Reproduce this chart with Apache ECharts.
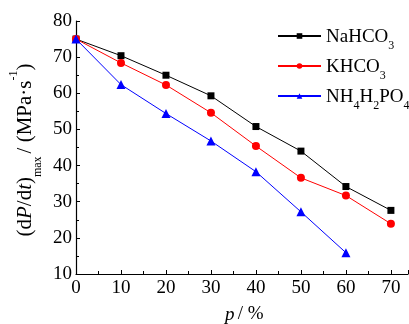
<!DOCTYPE html>
<html><head><meta charset="utf-8">
<script src="https://cdn.jsdelivr.net/npm/echarts@6/dist/echarts.min.js"></script>
<style>html,body{margin:0;padding:0;background:#fff}#c{width:409px;height:324px}</style>
</head><body><div id="c"></div>
<script>
const categories = [0, 10, 20, 30, 40, 50, 60, 70];
const nahco3 = [75.0, 70.4, 65.0, 59.3, 50.8, 44.0, 34.2, 27.6];
const khco3 = [75.0, 68.4, 62.3, 54.6, 45.4, 36.6, 31.7, 23.9];
const nh4h2po4 = [75.0, 62.4, 54.4, 46.8, 38.3, 27.2, 15.9];
const seriesNames = ['NaHCO3', 'KHCO3', 'NH4H2PO4'];
const yTicks = [10, 20, 30, 40, 50, 60, 70, 80];

const F = 'Liberation Serif, Times New Roman, serif';
const chart = echarts.init(document.getElementById('c'));
const pairs = arr => arr.map((v, i) => [categories[i], v]);
const legendRich = {
  n: {fontFamily: F, fontSize: 19, color: '#000', verticalAlign: 'bottom', lineHeight: 22},
  s: {fontFamily: F, fontSize: 12, color: '#000', verticalAlign: 'bottom', lineHeight: 14, padding: [0,0,-5,0]}
};
const legendFmt = {
  'NaHCO3': '{n|NaHCO}{s|3}',
  'KHCO3': '{n|KHCO}{s|3}',
  'NH4H2PO4': '{n|NH}{s|4}{n|H}{s|2}{n|PO}{s|4}'
};
const mk = (name, data, color, symbol, size) => ({
  name, type: 'line', data: pairs(data), symbol, symbolSize: size,
  lineStyle: {color, width: 1}, itemStyle: {color}, animation: false
});
chart.setOption({
  animation: false,
  grid: {left: 76, top: 21, right: 1, bottom: 50, containLabel: false},
  legend: {
    orient: 'vertical', left: 272, top: 23, itemGap: 6, itemWidth: 43, itemHeight: 7,
    data: seriesNames, formatter: n => legendFmt[n], textStyle: {rich: legendRich}
  },
  xAxis: {
    type: 'value', min: 0, max: 73.8, interval: 10,
    axisLine: {lineStyle: {color: '#000', width: 1.2}},
    axisTick: {inside: true, length: 4, lineStyle: {color: '#000'}},
    minorTick: {show: true, splitNumber: 2, length: 3, lineStyle: {color: '#000'}},
    axisLabel: {fontFamily: F, fontSize: 19, color: '#000', margin: 5, showMaxLabel: false},
    splitLine: {show: false}
  },
  yAxis: {
    type: 'value', min: yTicks[0], max: yTicks[yTicks.length-1], interval: 10,
    axisLine: {show: true, lineStyle: {color: '#000', width: 1.2}},
    axisTick: {show: true, inside: true, length: 4, lineStyle: {color: '#000'}},
    minorTick: {show: true, splitNumber: 2, length: 3, lineStyle: {color: '#000'}},
    axisLabel: {fontFamily: F, fontSize: 19, color: '#000', margin: 4},
    splitLine: {show: false}
  },
  graphic: [
    {type: 'text', left: 225, top: 305, style: {
      text: '{i|p} {n|/ %}', rich: {
        i: {fontFamily: F, fontSize: 19, fontStyle: 'italic', fill: '#000'},
        n: {fontFamily: F, fontSize: 19, fill: '#000'}
      }}},
    {type: 'text', x: 25, y: 150, rotation: Math.PI/2, style: {
      text: '{n|(d}{i|P}{n|/d}{i|t}{n|)}{s|max}{n|/ (MPa·s}{u|-1}{n|)}',
      align: 'center', verticalAlign: 'middle',
      rich: {
        n: {fontFamily: F, fontSize: 21, fill: '#000', verticalAlign: 'middle', lineHeight: 24},
        i: {fontFamily: F, fontSize: 21, fontStyle: 'italic', fill: '#000', lineHeight: 24},
        s: {fontFamily: F, fontSize: 12, fill: '#000', verticalAlign: 'bottom', lineHeight: 14, padding: [0,3,-7,0]},
        u: {fontFamily: F, fontSize: 12, fill: '#000', verticalAlign: 'top', lineHeight: 14, padding: [-5,0,0,0]}
      }}}
  ],
  series: [
    mk('NaHCO3', nahco3, '#000000', 'rect', 7),
    mk('KHCO3', khco3, '#ff0000', 'circle', 8),
    mk('NH4H2PO4', nh4h2po4, '#0000ff', 'triangle', 9)
  ]
});
</script></body></html>
